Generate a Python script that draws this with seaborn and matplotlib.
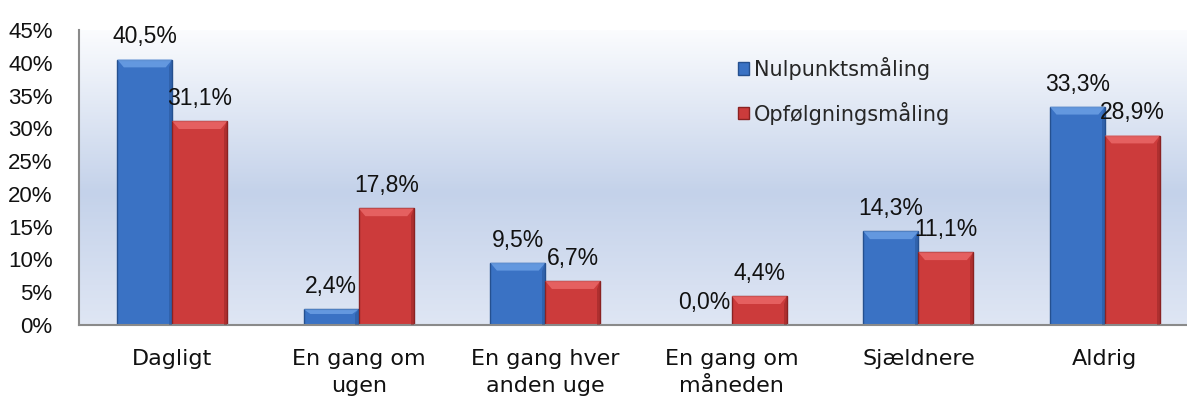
import numpy as np
import pandas as pd
import matplotlib
matplotlib.use("Agg")
import matplotlib.pyplot as plt
from matplotlib.colors import LinearSegmentedColormap
from matplotlib.patches import Polygon, Patch
import seaborn as sns

categories = ["Dagligt", "En gang om\nugen", "En gang hver\nanden uge",
              "En gang om\nmåneden", "Sjældnere", "Aldrig"]
series = ["Nulpunktsmåling", "Opfølgningsmåling"]
nulpunkt = [40.5, 2.4, 9.5, 0.0, 14.3, 33.3]
opfoelgning = [31.1, 17.8, 6.7, 4.4, 11.1, 28.9]
yticks = [0, 5, 10, 15, 20, 25, 30, 35, 40, 45]

colors = {"Nulpunktsmåling": "#3a72c4", "Opfølgningsmåling": "#cc3b3b"}
edges = {"Nulpunktsmåling": "#25508f", "Opfølgningsmåling": "#8a2222"}
tops = {"Nulpunktsmåling": "#6ea2e6", "Opfølgningsmåling": "#ec6a6a"}

df = pd.DataFrame({
    "kategori": categories * 2,
    "serie": [series[0]] * 6 + [series[1]] * 6,
    "pct": nulpunkt + opfoelgning,
})

sns.set_theme(style="white")
plt.rcParams["font.family"] = ["Liberation Sans", "DejaVu Sans"]
plt.rcParams["font.size"] = 16
word_font = ["DejaVu Sans"]

fig = plt.figure(figsize=(11.87, 4.0), dpi=100)
ax = fig.add_axes([79 / 1187, 1 - 325 / 400, 1 - 79 / 1187, 295 / 400])

# gradient background of the plot area
grad = LinearSegmentedColormap.from_list(
    "bg", [(0, "#dfe6f4"), (0.45, "#c4d2ea"), (1, "#fbfcfe")])
ax.imshow(np.linspace(0, 1, 256).reshape(-1, 1), cmap=grad, aspect="auto",
          extent=[-0.5, 5.44, 0, 45], origin="lower", zorder=0)

sns.barplot(data=df, x="kategori", y="pct", hue="serie", order=categories,
            hue_order=series, palette=colors, width=0.59, gap=0,
            saturation=1, ax=ax, zorder=2, legend=False)

# bevel look on each bar
for cont, s in zip(ax.containers, series):
    for p in cont:
        x0, y0 = p.get_x(), p.get_y()
        w, h = p.get_width(), p.get_height()
        p.set_edgecolor(edges[s])
        p.set_linewidth(1.0)
        if h <= 0:
            continue
        bev = min(1.2, h * 0.3)
        dx = w * 0.12
        ax.add_patch(Polygon([[x0, y0 + h], [x0 + w, y0 + h],
                              [x0 + w - dx, y0 + h - bev], [x0 + dx, y0 + h - bev]],
                             closed=True, facecolor=tops[s], edgecolor="none",
                             alpha=0.8, zorder=3))
        ax.add_patch(Polygon([[x0 + w, y0 + h], [x0 + w, y0],
                              [x0 + w - dx * 0.5, y0], [x0 + w - dx * 0.5, y0 + h - bev]],
                             closed=True, facecolor=edges[s], edgecolor="none",
                             alpha=0.45, zorder=3))
    ax.bar_label(cont, labels=[f"{v:.1f}%".replace(".", ",") for v in cont.datavalues],
                 padding=8, fontsize=16.5, color="#111111", zorder=4)

ax.set_xlim(-0.5, 5.44)
ax.set_ylim(0, 45)
ax.set_yticks(yticks)
ax.set_yticklabels([f"{t}%" for t in yticks])
ax.set_xlabel("")
ax.set_ylabel("")
ax.tick_params(axis="both", length=0, labelsize=16, colors="#111111")
ax.tick_params(axis="x", pad=17)
ax.tick_params(axis="y", pad=19)
for lab in ax.get_xticklabels():
    lab.set_linespacing(1.45)
    lab.set_family(word_font)
    lab.set_fontsize(16)

for side in ["top", "right"]:
    ax.spines[side].set_visible(False)
for side in ["left", "bottom"]:
    ax.spines[side].set_color("#8a8a8a")
    ax.spines[side].set_linewidth(1.5)

handles = [Patch(facecolor=colors[s], edgecolor=edges[s], label=s) for s in series]
leg = ax.legend(handles=handles, loc="upper left", bbox_to_anchor=(0.585, 0.945),
                frameon=False, prop={"family": word_font, "size": 15},
                handlelength=0.55, handleheight=0.55,
                handletextpad=0.25, labelspacing=1.05, borderpad=0)

fig.savefig("out.png", dpi=100)
